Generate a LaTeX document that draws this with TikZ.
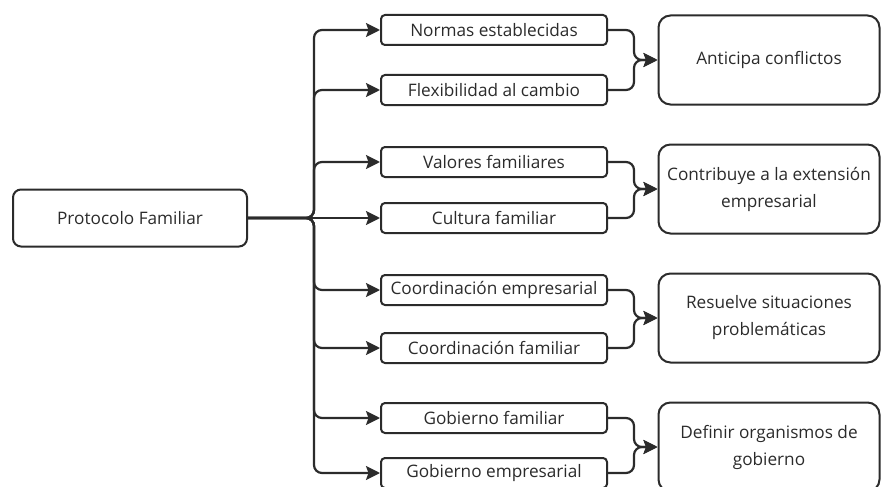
\documentclass[tikz,border=0pt]{standalone}
\usepackage{fontspec}
\setmainfont{Open Sans}
\usetikzlibrary{arrows.meta,positioning}
\definecolor{ink}{HTML}{2B2B2B}

\begin{document}
\begin{tikzpicture}[x=1pt, y=-1pt,
    root/.style={draw=ink, line width=2pt, rounded corners=8pt, minimum width=234pt, minimum height=57pt, font=\fontsize{17.2}{20}\selectfont, text=ink},
    mid/.style={draw=ink, line width=2pt, rounded corners=4pt, minimum width=226pt, minimum height=30pt, inner sep=0pt, font=\fontsize{17.2}{20}\selectfont, text=ink},
    res/.style={draw=ink, line width=2pt, rounded corners=12pt, minimum width=221pt, minimum height=89pt, align=center, font=\fontsize{17.2}{27}\selectfont, text=ink},
    link/.style={draw=ink, line width=2.2pt, rounded corners=8pt, -{Stealth[length=14pt, width=14pt, inset=2.5pt]}}]

    \useasboundingbox (0,0) rectangle (881,487);

    \node[root] (proto) at (130,218) {Protocolo Familiar};

    \node[mid] (normas) at (494,30) {Normas establecidas};
    \node[mid] (flex) at (494,90) {Flexibilidad al cambio};
    \node[mid] (valores) at (494,162) {Valores familiares};
    \node[mid] (cultura) at (494,218) {Cultura familiar};
    \node[mid] (coordemp) at (494,290) {Coordinación empresarial};
    \node[mid] (coordfam) at (494,348) {Coordinación familiar};
    \node[mid] (gobfam) at (494,418) {Gobierno familiar};
    \node[mid] (gobemp) at (494,473) {Gobierno empresarial};

    \node[res] (anticipa) at (769,60) {Anticipa conflictos};
    \node[res] (contribuye) at (769,189) {Contribuye a la extensión\\empresarial};
    \node[res] (resuelve) at (769,318) {Resuelve situaciones\\problemáticas};
    \node[res] (definir) at (769,447) {Definir organismos de\\gobierno};

    % ramas desde el protocolo
    \foreach \n in {normas,flex,valores,coordemp,coordfam,gobfam,gobemp}
        \draw[link] (proto.east) -- ++(66,0) |- (\n.west);
    \draw[link] (proto.east) -- (cultura.west);

    % uniones hacia los resultados
    \draw[link] (normas.east) -- ++(26,0) |- (anticipa.west);
    \draw[link] (flex.east) -- ++(26,0) |- (anticipa.west);
    \draw[link] (valores.east) -- ++(26,0) |- (contribuye.west);
    \draw[link] (cultura.east) -- ++(26,0) |- (contribuye.west);
    \draw[link] (coordemp.east) -- ++(26,0) |- (resuelve.west);
    \draw[link] (coordfam.east) -- ++(26,0) |- (resuelve.west);
    \draw[link] (gobfam.east) -- ++(26,0) |- (definir.west);
    \draw[link] (gobemp.east) -- ++(26,0) |- (definir.west);
\end{tikzpicture}
\end{document}
